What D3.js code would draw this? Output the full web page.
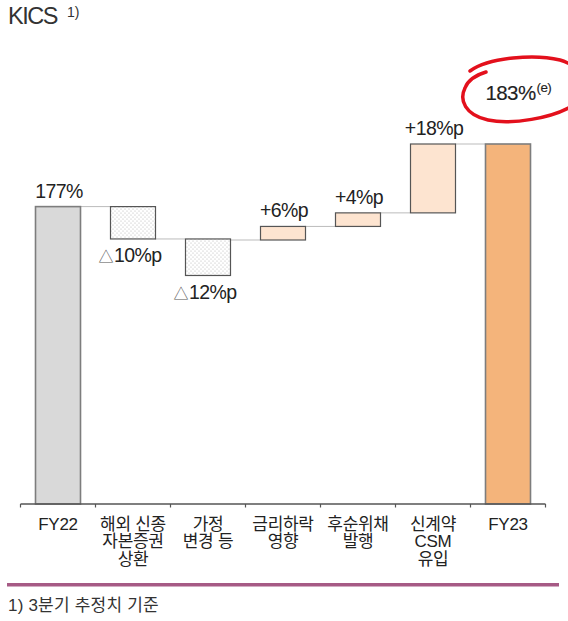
<!DOCTYPE html>
<html>
<head>
<meta charset="utf-8">
<script src="https://cdn.jsdelivr.net/npm/d3@7"></script>
<style>
  body { margin: 0; background: #fff; }
  svg { display: block; }
  text { font-family: "Liberation Sans", "Noto Sans CJK KR", sans-serif; fill: #222; }
</style>
</head>
<body>
<svg id="chart" width="568" height="621"></svg>
<script>
var categories = [["FY22"], ["해외 신종", "자본증권", "상환"], ["가정", "변경 등"], ["금리하락", "영향"], ["후순위채", "발행"], ["신계약", "CSM", "유입"], ["FY23"]];
var valueLabels = ["177%", "△10%p", "△12%p", "+6%p", "+4%p", "+18%p", "183%"];
var kinds = ["total", "down", "down", "up", "up", "up", "total"];
// levels of each bar as drawn in the source (it is not drawn to scale)
var barFrom = [148.5, 177, 173.9, 173.8, 175.1, 176.4, 148.5];
var barTo = [177, 173.9, 170.4, 175.1, 176.4, 183, 183];

var svg = d3.select('#chart');

var x = d3.scaleBand()
  .domain(d3.range(categories.length))
  .range([20.5, 545.5])
  .paddingInner(0.4)
  .paddingOuter(0.2);

var y = d3.scaleLinear()
  .domain([148.5, 183])
  .range([504, 144]);

var bw = x.bandwidth();

// dotted fill for the negative bars
var defs = svg.append('defs');
var pat = defs.append('pattern')
  .attr('id', 'dots')
  .attr('width', 4)
  .attr('height', 4)
  .attr('patternUnits', 'userSpaceOnUse');
pat.append('rect').attr('width', 4).attr('height', 4).attr('fill', '#fff');
pat.append('circle').attr('cx', 1).attr('cy', 1).attr('r', 0.5).attr('fill', '#a8a8a8');
pat.append('circle').attr('cx', 3).attr('cy', 3).attr('r', 0.5).attr('fill', '#a8a8a8');

// title
svg.append('text')
  .attr('x', 8)
  .attr('y', 24)
  .attr('font-size', 23.5)
  .attr('letter-spacing', -1.5)
  .style('fill', '#333')
  .text('KICS');
svg.append('text')
  .attr('x', 67)
  .attr('y', 16.5)
  .attr('font-size', 14)
  .style('fill', '#333')
  .text('1)');

var fills = { total: '#d9d9d9', down: 'url(#dots)', up: '#fde4d0' };

// connectors between bars
var conn = d3.range(categories.length - 1).map(i => ({
  i: i,
  level: kinds[i + 1] === 'total' ? barTo[i] : barFrom[i + 1]
}));
svg.append('g')
  .selectAll('line')
  .data(conn)
  .enter().append('line')
  .attr('x1', d => x(d.i) + bw)
  .attr('x2', d => x(d.i + 1))
  .attr('y1', d => y(d.level))
  .attr('y2', d => y(d.level))
  .attr('stroke', '#777')
  .attr('stroke-width', 1)
  .attr('stroke-dasharray', '1,1');

// bars
svg.append('g')
  .selectAll('rect')
  .data(d3.range(categories.length))
  .enter().append('rect')
  .attr('x', i => x(i))
  .attr('width', bw)
  .attr('y', i => y(Math.max(barFrom[i], barTo[i])))
  .attr('height', i => Math.abs(y(barFrom[i]) - y(barTo[i])))
  .attr('fill', i => i === categories.length - 1 ? '#f4b47b' : fills[kinds[i]])
  .attr('stroke', i => kinds[i] === 'total' ? '#7d7d7d' : '#555')
  .attr('stroke-width', i => kinds[i] === 'total' ? 1.6 : 1.2);

// value labels
var last = categories.length - 1;
d3.range(categories.length).forEach(i => {
  var top = y(Math.max(barFrom[i], barTo[i]));
  var bottom = y(Math.min(barFrom[i], barTo[i]));
  var cx = x(i) + bw / 2;
  if (i === last) {
    var t = svg.append('text')
      .attr('x', x(i))
      .attr('y', top - 44)
      .attr('font-size', 20.5)
      .attr('letter-spacing', -0.6)
      .style('stroke', '#222')
      .style('stroke-width', 0.15);
    t.append('tspan').text(valueLabels[i]);
    t.append('tspan')
      .attr('font-size', 13.5)
      .attr('dy', -8)
      .attr('dx', 1)
      .style('stroke-width', 0.1)
      .text('(e)');
    return;
  }
  var lab = svg.append('text')
    .attr('text-anchor', 'middle')
    .attr('font-size', 19.5)
    .attr('letter-spacing', -0.6);
  if (kinds[i] === 'down') {
    lab.attr('x', cx - 3).attr('y', bottom + 23.5);
    lab.append('tspan')
      .attr('font-size', 15)
      .style('fill', '#555')
      .text(valueLabels[i].charAt(0));
    lab.append('tspan').attr('dx', 1).text(valueLabels[i].slice(1));
  } else {
    lab.attr('x', cx + 1).attr('y', top - 9).text(valueLabels[i]);
  }
});

// axis line with ticks on band boundaries
var axisY = y(148.5);
var ax = svg.append('g');
ax.append('line')
  .attr('x1', x.range()[0])
  .attr('x2', x.range()[1])
  .attr('y1', axisY)
  .attr('y2', axisY)
  .attr('stroke', '#555')
  .attr('stroke-width', 1.5);
ax.selectAll('.tick')
  .data(d3.range(categories.length + 1))
  .enter().append('line')
  .attr('class', 'tick')
  .attr('x1', i => x.range()[0] + i * x.step())
  .attr('x2', i => x.range()[0] + i * x.step())
  .attr('y1', axisY)
  .attr('y2', axisY + 3.5)
  .attr('stroke', '#555')
  .attr('stroke-width', 1.2);

// category labels
var cat = svg.append('g')
  .selectAll('text')
  .data(categories)
  .enter().append('text')
  .attr('text-anchor', 'middle')
  .attr('font-size', 17)
  .attr('letter-spacing', -0.3)
  .attr('transform', (d, i) => 'translate(' + (x(i) + bw / 2) + ',' + (axisY + 25.5) + ')');
cat.selectAll('tspan')
  .data(d => d)
  .enter().append('tspan')
  .attr('x', 0)
  .attr('y', (d, j) => j * 17.5)
  .text(d => d);

// hand-drawn red ring around the estimate
svg.append('path')
  .attr('d', 'M470,71 C490,57 535,54 560,60 C588,68 590,94 572,106 C552,118 512,125 488,120 C465,115 459,100 465,88 C468,80 476,75 486,72')
  .attr('fill', 'none')
  .attr('stroke', '#e3101c')
  .attr('stroke-width', 3.5)
  .attr('stroke-linecap', 'round');

// separator and footnote
svg.append('line')
  .attr('x1', 7)
  .attr('x2', 559)
  .attr('y1', 584.8)
  .attr('y2', 584.8)
  .attr('stroke', '#a65a85')
  .attr('stroke-width', 3.5);
svg.append('text')
  .attr('x', 8)
  .attr('y', 611)
  .attr('font-size', 17)
  .attr('letter-spacing', 0.2)
  .style('fill', '#333')
  .text('1) 3분기 추정치 기준');
</script>
</body>
</html>
